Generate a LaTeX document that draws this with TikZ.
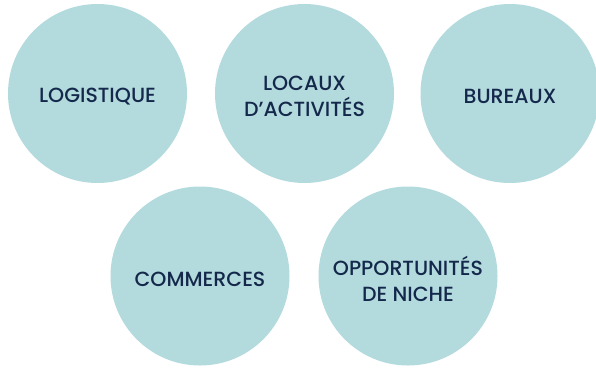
\documentclass[tikz,border=0pt]{standalone}
\usepackage{fontspec}
\setmainfont{Poppins Medium}
\definecolor{circfill}{HTML}{B3DADC}
\definecolor{navy}{HTML}{14284B}
\begin{document}
\begin{tikzpicture}[x=1pt,y=-1pt,
  bubble/.style={circle,fill=circfill,minimum size=179pt,inner sep=0pt},
  caption/.style={text=navy,align=center,inner sep=0pt,yshift=-3pt,
    font=\fontsize{20.5}{26}\selectfont}]
\useasboundingbox (0,0) rectangle (596,367);
\node[bubble] (log) at (97.5,93.5) {};
\node[bubble] (loc) at (304.5,93.5) {};
\node[bubble] (bur) at (510,93.5) {};
\node[bubble] (com) at (200,276) {};
\node[bubble] (opp) at (408,276) {};
\node[caption] (logT) at (log.center) {LOGISTIQUE};
\node[caption] (locT) at (loc.center) {LOCAUX\\D’ACTIVITÉS};
\node[caption] (burT) at (bur.center) {BUREAUX};
\node[caption] (comT) at (com.center) {COMMERCES};
\node[caption] (oppT) at (opp.center) {OPPORTUNITÉS\\DE NICHE};
\end{tikzpicture}
\end{document}
